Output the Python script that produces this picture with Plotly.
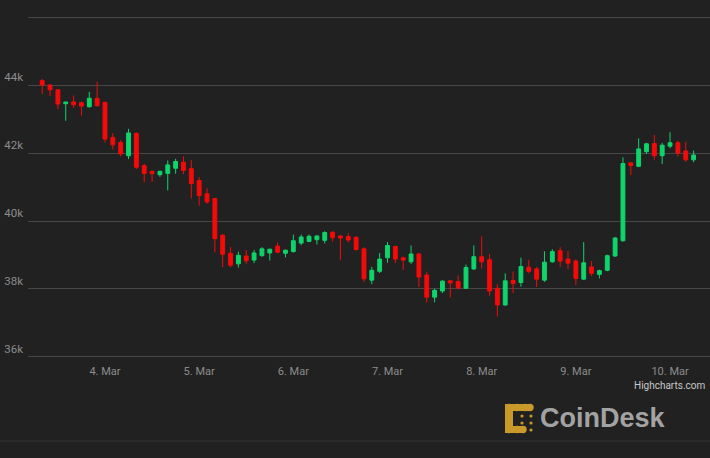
import pandas as pd
import plotly.graph_objects as go

# 2-hour BTC/USD candles, 3 Mar 2022 08:00 .. 10 Mar 2022 06:00
times = pd.date_range("2022-03-03 08:00", periods=84, freq="2h")

opens = [44130, 44000, 43860, 43450, 43500, 43480, 43360, 43610, 43490, 42460,
         42310, 41920, 42580, 41630, 41460, 41360, 41400, 41550, 41730, 41540,
         41190, 40800, 40660, 39580, 39050, 38740, 38970, 38850, 38980, 39060,
         39260, 39050, 39100, 39350, 39400, 39450, 39430, 39670, 39560, 39540,
         39520, 39180, 38260, 38520, 38920, 39250, 38920, 38800, 39030, 38410,
         37760, 37940, 38240, 38220, 38020, 38590, 38950, 38860, 38020, 37530,
         38250, 38190, 38640, 38590, 38260, 38800, 39130, 38880, 38820, 38290,
         38650, 38430, 38550, 38970, 39420, 41710, 41610, 42040, 42280, 41920,
         42200, 42300, 42060, 41800]
highs = [44180, 44030, 43870, 43500, 43690, 43510, 43800, 44100, 43510, 42580,
         42380, 42710, 42600, 41680, 41480, 41480, 41780, 41830, 41900, 41790,
         41290, 40960, 40680, 39620, 39230, 39100, 39140, 39150, 39230, 39180,
         39370, 39160, 39600, 39600, 39600, 39570, 39700, 39700, 39580, 39640,
         39550, 39230, 38650, 39060, 39380, 39280, 38950, 39280, 39050, 38510,
         38010, 38260, 38250, 38400, 38720, 39280, 39550, 39030, 38150, 38460,
         38510, 38920, 38860, 38650, 39110, 39170, 39230, 39120, 38880, 39380,
         38820, 38570, 39010, 39530, 41870, 41710, 42430, 42300, 42530, 42300,
         42610, 42360, 42330, 42070]
lows = [43735, 43680, 43290, 42950, 43330, 43100, 43340, 43370, 42310, 42100,
        41900, 41820, 41530, 41140, 41150, 41300, 40900, 41390, 41380, 40660,
        40450, 40510, 39080, 38640, 38640, 38630, 38740, 38760, 38950, 38840,
        39050, 38930, 39070, 39290, 39380, 39310, 39340, 39400, 38850, 39370,
        39130, 38200, 38140, 38470, 38770, 38760, 38560, 38740, 38060, 37600,
        37610, 37880, 37750, 37980, 38000, 38560, 38600, 37800, 37190, 37510,
        37880, 38070, 38460, 38060, 38210, 38770, 38650, 38590, 38120, 38270,
        38380, 38310, 38520, 38940, 39390, 41350, 41580, 41970, 41800, 41680,
        42140, 41900, 41740, 41730]
closes = [44000, 43860, 43440, 43500, 43420, 43380, 43610, 43390, 42410, 42240,
          41970, 42590, 41580, 41400, 41390, 41460, 41650, 41750, 41490, 41100,
          40750, 40560, 39480, 39020, 38700, 38990, 38830, 39060, 39180, 39170,
          39080, 39140, 39420, 39530, 39550, 39560, 39660, 39510, 39500, 39440,
          39160, 38300, 38550, 38880, 39280, 38880, 38850, 39030, 38350, 37760,
          37960, 38230, 38180, 38030, 38630, 38950, 38800, 37940, 37530, 38240,
          38160, 38660, 38520, 38290, 38790, 39100, 38820, 38760, 38310, 38770,
          38460, 38540, 38980, 39500, 41690, 41630, 42120, 42270, 41920, 42230,
          42300, 42000, 41800, 41940]

y_ticks = [36000, 38000, 40000, 42000, 44000, 46000]
y_labels = ["36k", "38k", "40k", "42k", "44k", ""]
x_ticks = ["2022-03-04", "2022-03-05", "2022-03-06", "2022-03-07",
           "2022-03-08", "2022-03-09", "2022-03-10"]
x_labels = ["4. Mar", "5. Mar", "6. Mar", "7. Mar", "8. Mar", "9. Mar", "10. Mar"]

BG = "#212121"
GREEN = "#0fd46c"
RED = "#f50a0a"
GOLD = "#c99a2a"

fig = go.Figure(go.Candlestick(
    x=times, open=opens, high=highs, low=lows, close=closes,
    increasing=dict(line=dict(color=GREEN, width=1), fillcolor=GREEN),
    decreasing=dict(line=dict(color=RED, width=1), fillcolor=RED),
    whiskerwidth=0, showlegend=False, hoverinfo="x+y",
))

fig.update_layout(
    width=710, height=458,
    margin=dict(l=28, r=0, t=16, b=100),
    paper_bgcolor=BG, plot_bgcolor=BG,
    boxgap=0.3,
    font=dict(family="Roboto, Liberation Sans, sans-serif", color="#8c8c8c", size=11),
    xaxis=dict(
        type="date",
        range=["2022-03-03 04:23", "2022-03-10 10:11"],
        tickvals=x_ticks, ticktext=x_labels,
        showgrid=False, zeroline=False, showline=False,
        ticks="outside", ticklen=3, tickcolor=BG,
        rangeslider=dict(visible=False),
        tickfont=dict(size=11, color="#8c8c8c"),
        fixedrange=True,
    ),
    yaxis=dict(
        range=[35970, 46030],
        tickvals=y_ticks, ticktext=y_labels,
        showgrid=True, gridcolor="#474747", gridwidth=1,
        zeroline=False, showline=False,
        ticklabelposition="outside top",
        ticklabelstandoff=4,
        tickfont=dict(size=11.5, color="#8c8c8c"),
        fixedrange=True,
    ),
    annotations=[
        dict(text="Highcharts.com", xref="paper", yref="paper", x=1.0, y=-0.058,
             xanchor="right", yanchor="top", showarrow=False, xshift=-2,
             font=dict(size=10, color="#c8c8c8", family="Roboto, sans-serif")),
        dict(text="<b>CoinDesk</b>", xref="paper", yref="paper", x=0.748, y=-0.176,
             xanchor="left", yanchor="middle", showarrow=False,
             font=dict(size=27, color="#a3a3a3", family="Liberation Sans, Arial, sans-serif")),
    ],
)

# CoinDesk logo mark built from a few rounded gold blocks (paper coords via pixels)
PT, PB, PL, PR = 16, 358, 28, 710

def px_x(p):
    return (p - PL) / float(PR - PL)

def px_y(p):
    return (PB - p) / float(PB - PT)

shapes = []
def dot(cx, cy, r, color=GOLD):
    shapes.append(dict(type="circle", xref="paper", yref="paper",
                       x0=px_x(cx - r), x1=px_x(cx + r), y0=px_y(cy + r), y1=px_y(cy - r),
                       fillcolor=color, line=dict(width=0), layer="above"))
def rect(x0, y0, x1, y1, color=GOLD):
    shapes.append(dict(type="rect", xref="paper", yref="paper",
                       x0=px_x(x0), x1=px_x(x1), y0=px_y(y1), y1=px_y(y0),
                       fillcolor=color, line=dict(width=0), layer="above"))

rect(505, 404, 513, 433)
rect(505, 404, 530, 411)
rect(505, 426, 524, 433)
for cx, cy in [(509, 407.5), (517, 407.5), (525, 407.5), (530, 407.5),
               (509, 416), (509, 423), (509, 429.5), (517, 429.5), (523, 429.5)]:
    dot(cx, cy, 3.7)
for cx, cy in [(522, 416), (531, 416), (522, 423), (531, 423), (531, 430)]:
    dot(cx, cy, 1.6)
# thin separator near the bottom
shapes.append(dict(type="line", xref="paper", yref="paper",
                   x0=px_x(0), x1=px_x(710), y0=px_y(441), y1=px_y(441),
                   line=dict(color="#343434", width=1)))
fig.update_layout(shapes=shapes)

fig.write_html(
    "out.html",
    config={"displayModeBar": False},
    post_script="document.body.style.margin='0';document.body.style.background='%s';" % BG,
)
